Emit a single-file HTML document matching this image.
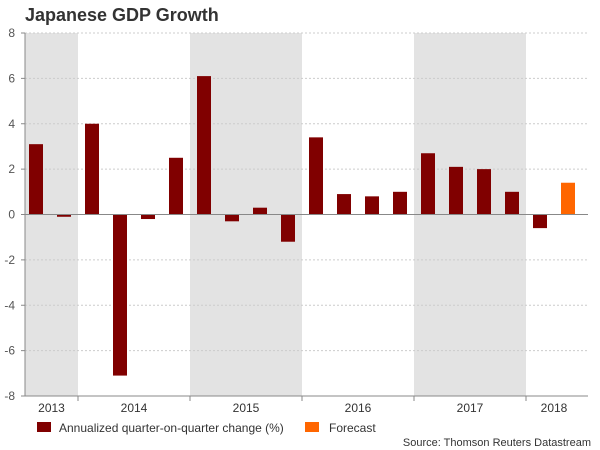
<!DOCTYPE html>
<html><head><meta charset="utf-8"><style>
body{margin:0;background:#fff;font-family:"Liberation Sans",Arial,sans-serif}
svg{display:block}
</style></head><body>
<svg id="c" width="600" height="450">
<text x="25" y="21" font-size="18" font-weight="bold" fill="#333">Japanese GDP Growth</text>
<g id="bands"></g><g id="grid"></g><g id="bars"></g><g id="axes"></g>
<g>
<rect x="37" y="422" width="14" height="10" fill="#800000"/>
<text x="59" y="432" font-size="12" fill="#333">Annualized quarter-on-quarter change (%)</text>
<rect x="305" y="422" width="14" height="10" fill="#ff6600"/>
<text x="329" y="432" font-size="12" fill="#333">Forecast</text>
</g>
<text x="591" y="446" font-size="11" fill="#333" text-anchor="end">Source: Thomson Reuters Datastream</text>
</svg>
<script>
const values=[3.1,-0.1,4.0,-7.1,-0.2,2.5,6.1,-0.3,0.3,-1.2,3.4,0.9,0.8,1.0,2.7,2.1,2.0,1.0,-0.6,1.4];
const forecast=[false,false,false,false,false,false,false,false,false,false,false,false,false,false,false,false,false,false,false,true];
const years=["2013","2014","2015","2016","2017","2018"];
const yearStart=[0,2,6,10,14,18];
const yearEnd=[2,6,10,14,18,20];
const yTicks=[-8,-6,-4,-2,0,2,4,6,8];
const NS="http://www.w3.org/2000/svg";
const L=25,R=588,T=33,B=396;
function y(v){return T+(8-v)/16*(B-T);}
function xc(i){return 36+28*i;}
function xe(q){return Math.max(L,Math.min(R,36+28*(q-0.5)));}
function mk(p,t,a){const e=document.createElementNS(NS,t);for(const k in a)e.setAttribute(k,a[k]);p.appendChild(e);return e;}
const bands=document.getElementById('bands'),grid=document.getElementById('grid'),bars=document.getElementById('bars'),axes=document.getElementById('axes');
years.forEach((yr,k)=>{
 if(k%2===0){const r=mk(bands,'rect',{x:xe(yearStart[k]),y:T,width:xe(yearEnd[k])-xe(yearStart[k]),height:B-T,fill:'#e3e3e3'});
 
 }
 const t=mk(axes,'text',{x:(xe(yearStart[k])+xe(yearEnd[k]))/2,y:412,'font-size':12,fill:'#333','text-anchor':'middle'});t.textContent=yr;
 
 
 if(k>0){const tk=mk(axes,'line',{x1:xe(yearStart[k]),x2:xe(yearStart[k]),y1:B,y2:B+5,stroke:'#888'});
 
 }
});
yTicks.forEach(v=>{
 if(v!==0&&v!==-8){const g=mk(grid,'line',{x1:L,x2:R,y1:y(v),y2:y(v),stroke:'#ccc','stroke-dasharray':'2,2'});
 
 }
 const t=mk(axes,'text',{x:15,y:y(v)+4,'font-size':12,fill:'#555','text-anchor':'end'});t.textContent=v;
 
 
});
values.forEach((v,i)=>{
 const r=mk(bars,'rect',{x:xc(i)-7,y:Math.min(y(v),y(0)),width:14,height:Math.abs(y(v)-y(0)),fill:forecast[i]?'#ff6600':'#800000'});
 
 
});
const za=mk(axes,'line',{x1:L,x2:R,y1:y(0),y2:y(0),stroke:'#888'});


const ya=mk(axes,'line',{x1:L,x2:L,y1:T,y2:B,stroke:'#888'});


const xa=mk(axes,'line',{x1:L,x2:R,y1:B,y2:B,stroke:'#888'});


yTicks.forEach(v=>{const t=mk(axes,'line',{x1:L-4,x2:L,y1:y(v),y2:y(v),stroke:'#888'});
 
 });
</script>
</body></html>
